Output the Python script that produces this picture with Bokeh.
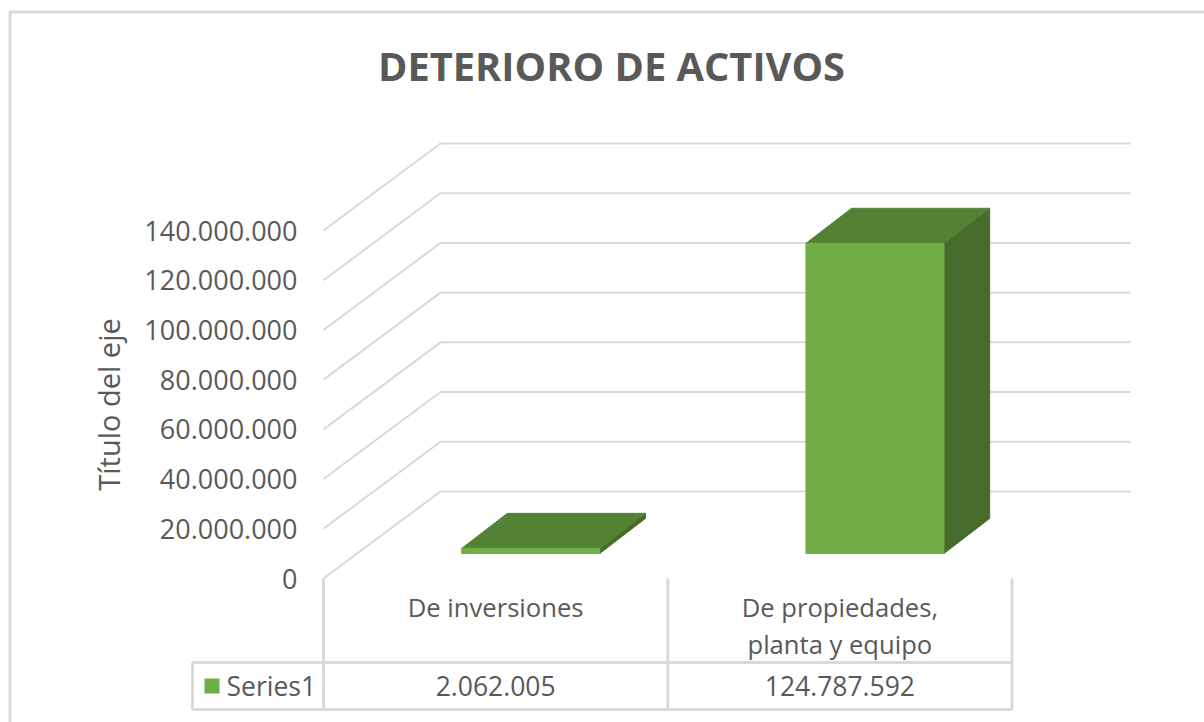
from bokeh.plotting import figure
from bokeh.models import Range1d, FixedTicker
from bokeh.core.properties import value
from bokeh.embed import file_html
from bokeh.resources import INLINE

# ---- data
title_text = "DETERIORO DE ACTIVOS"
y_title = "Título del eje"
series_name = "Series1"
categories = ["De inversiones", "De propiedades,\nplanta y equipo"]
values = [2062005, 124787592]
y_ticks = [0, 20000000, 40000000, 60000000, 80000000, 100000000, 120000000, 140000000]

def dotted(v):
    return f"{v:,}".replace(",", ".")

# ---- layout (page pixels)
W, H = 1204, 722
PAGE = 0
FONT = "Open Sans"
TXT = "#595959"
GRID = "#D9D9D9"
FRONT, TOP, SIDE = "#70AD47", "#548235", "#476B2A"
X0, CAT_W = 323, 344.25    # page x of first category edge, width of a category
Y0, PX_PER_V = 578, 348 / 140e6
DEPTH_X, DEPTH_Y = 117 / CAT_W, 87 / PX_PER_V   # wall depth in data units
BACK_RIGHT = 1130
TABLE_LEFT, ROW_TOP, ROW_BOTTOM = 192, 662, 709
BAR_W = 0.401
D_FRONT, D_BACK = 0.287, 0.69
D_FRONT_X, D_BACK_X = 0.30, 0.69

def dx(px):  # page pixel -> x data
    return (px - X0) / CAT_W
def dy(py):  # page pixel -> y data
    return (Y0 - py) / PX_PER_V

p = figure(width=W, height=H, output_backend="svg", toolbar_location=None,
           x_range=Range1d(dx(PAGE), dx(PAGE + W)), y_range=Range1d(dy(PAGE + H), dy(PAGE)),
           min_border=0, min_border_left=0, min_border_right=0, min_border_top=0, min_border_bottom=0,
           outline_line_color=None, background_fill_color="white", border_fill_color="white")
p.grid.visible = False

# outer chart frame: only its top and left edges fall inside the picture
p.line([dx(9.5), dx(9.5), dx(W)], [dy(H), dy(11.5), dy(11.5)], line_color=GRID, line_width=3)

# axes
ya = p.yaxis[0]
ya.fixed_location = 0
ya.bounds = (y_ticks[0], y_ticks[-1])
ya.ticker = FixedTicker(ticks=y_ticks)
ya.major_label_overrides = {v: dotted(v) for v in y_ticks}
ya.major_label_text_font = FONT
ya.major_label_text_font_size = "27px"
ya.major_label_text_color = TXT
ya.major_label_standoff = 20
ya.major_tick_line_color = None
ya.minor_tick_line_color = None
ya.axis_line_color = None
ya.axis_label = y_title
ya.axis_label_text_font = FONT
ya.axis_label_text_font_size = "29px"
ya.axis_label_text_font_style = "normal"
ya.axis_label_text_color = TXT
ya.axis_label_standoff = 13

xa = p.xaxis[0]
xa.fixed_location = 0
xa.ticker = FixedTicker(ticks=[i + 0.5 for i in range(len(categories))])
xa.major_label_overrides = {i + 0.5: c for i, c in enumerate(categories)}
xa.major_label_text_font = FONT
xa.major_label_text_font_size = "25.6px"
xa.major_label_text_line_height = 1.06
xa.major_label_text_color = TXT
xa.major_label_standoff = 5
xa.major_tick_line_color = None
xa.minor_tick_line_color = None
xa.axis_line_color = None

# walls
for v in y_ticks:
    p.line([0, DEPTH_X, dx(BACK_RIGHT)], [v, v + DEPTH_Y, v + DEPTH_Y], line_color=GRID, line_width=2)

# table lines
n = len(categories)
for i in range(n + 1):
    p.line([i, i], [0, dy(ROW_BOTTOM)], line_color=GRID, line_width=3)
p.line([dx(TABLE_LEFT), n], [dy(ROW_TOP)] * 2, line_color=GRID, line_width=3)
p.line([dx(TABLE_LEFT), n], [dy(ROW_BOTTOM)] * 2, line_color=GRID, line_width=3)
p.line([dx(TABLE_LEFT)] * 2, [dy(ROW_TOP), dy(ROW_BOTTOM)], line_color=GRID, line_width=3)

# 3D bars
for i, v in enumerate(values):
    c = i + 0.5
    x1 = c - BAR_W / 2 + DEPTH_X * D_FRONT_X
    x2 = c + BAR_W / 2 + DEPTH_X * D_FRONT_X
    y1 = DEPTH_Y * D_FRONT
    y2 = y1 + v
    ddx = DEPTH_X * (D_BACK_X - D_FRONT_X)
    ddy = DEPTH_Y * (D_BACK - D_FRONT)
    p.patch([x2, x2 + ddx, x2 + ddx, x2], [y1, y1 + ddy, y2 + ddy, y2], fill_color=SIDE, line_color=SIDE, line_width=1)
    p.patch([x1, x1 + ddx, x2 + ddx, x2], [y2, y2 + ddy, y2 + ddy, y2], fill_color=TOP, line_color=TOP, line_width=1)
    p.patch([x1, x2, x2, x1], [y1, y1, y2, y2], fill_color=FRONT, line_color=FRONT, line_width=1)

# data table
row_y = (dy(ROW_TOP) + dy(ROW_BOTTOM)) / 2
p.text([i + 0.5 for i in range(n)], [row_y] * n, text=[dotted(v) for v in values],
       text_font=value(FONT), text_font_size="26.5px", text_color=TXT,
       text_align="center", text_baseline="middle")
p.scatter([dx(211.5)], [row_y], marker="square", size=15, fill_color=FRONT, line_color=None)
p.text([dx(226)], [row_y], text=[series_name], text_font=value(FONT), text_font_size="26.5px",
       text_color=TXT, text_align="left", text_baseline="middle")

# chart title
p.text([dx(611)], [dy(65)], text=[title_text], text_font=value(FONT), text_font_size="39.8px",
       text_font_style="bold", text_color=TXT, text_align="center", text_baseline="middle")

open("out.html", "w").write(file_html(p, INLINE))
